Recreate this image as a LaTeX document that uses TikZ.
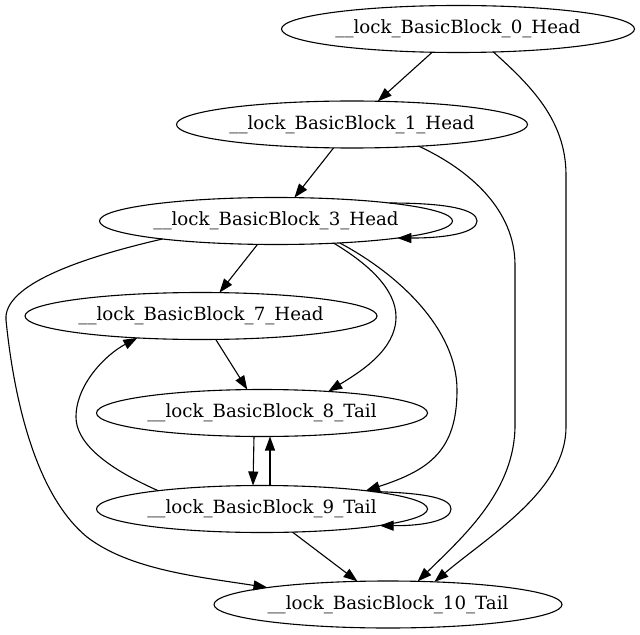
\documentclass[tikz,border=0pt]{standalone}
\usepackage{fontspec}
\setmainfont{DejaVu Serif}
\usepackage{tikz}
\usetikzlibrary{arrows.meta,shapes.geometric}

\begin{document}
\begin{tikzpicture}[>={Triangle[length=14bp,width=10bp]}, x=1bp, y=-1bp, line width=1.1bp,
    blk/.style={draw, ellipse, inner sep=0pt, outer sep=0pt, minimum height=47bp, minimum width=#1,
                font=\fontsize{18.2bp}{22bp}\selectfont}]
        \useasboundingbox (0,0) rectangle (640,635);
        \node[blk=353bp] (b0)  at (458,29)    {\_\_lock\_BasicBlock\_0\_Head};
        \node[blk=351bp] (b1)  at (352,124.5) {\_\_lock\_BasicBlock\_1\_Head};
        \node[blk=353bp] (b3)  at (276,221)   {\_\_lock\_BasicBlock\_3\_Head};
        \node[blk=352bp] (b7)  at (201,316)   {\_\_lock\_BasicBlock\_7\_Head};
        \node[blk=331bp] (b8)  at (262,413)   {\_\_lock\_BasicBlock\_8\_Tail};
        \node[blk=331bp] (b9)  at (262,509)   {\_\_lock\_BasicBlock\_9\_Tail};
        \node[blk=348bp] (b10) at (388,604.5) {\_\_lock\_BasicBlock\_10\_Tail};
        \draw[->] (b0) -- (b1);
        \draw[->] (b0.327) .. controls (530,85) and (566,120) .. (566,175) -- (566,427)
                  .. controls (566,490) and (490,535) .. (b10.26);
        \draw[->] (b1) -- (b3);
        \draw[->] (b1.342) .. controls (470,170) and (515,210) .. (515,265) -- (515,425)
                  .. controls (515,490) and (465,535) .. (b10.38);
        \draw[->] (b3.9) .. controls (450,203) and (477,210) .. (477,221)
                  .. controls (477,232) and (450,238) .. (b3.352);
        \draw[->] (b3) -- (b7);
        \draw[->] (b3.339) .. controls (370,265) and (396,290) .. (396,317)
                  .. controls (396,350) and (360,372) .. (b8.18);
        \draw[->] (b3.341) .. controls (400,275) and (457,330) .. (457,390)
                  .. controls (457,450) and (430,470) .. (b9.10);
        \draw[->] (b3.189) .. controls (80,258) and (3,285) .. (6,320)
                  .. controls (12,380) and (30,490) .. (87,537)
                  .. controls (130,570) and (200,577) .. (b10.172);
        \draw[->] (b7) -- (b8);
        \draw[->] ([xshift=-8bp]b8.south) -- ([xshift=-9bp]b9.north);
        \draw[->] ([xshift=8bp]b9.north) -- ([xshift=8bp]b8.south);
        \draw[->] (b9.170) .. controls (100,465) and (76,440) .. (76,417)
                  .. controls (76,385) and (105,355) .. (b7.199);
        \draw[->] (b9.9) .. controls (430,493) and (451,499) .. (451,509)
                  .. controls (451,520) and (425,526) .. (b9.352);
        \draw[->] (b9) -- (b10);
    \end{tikzpicture}
\end{document}
